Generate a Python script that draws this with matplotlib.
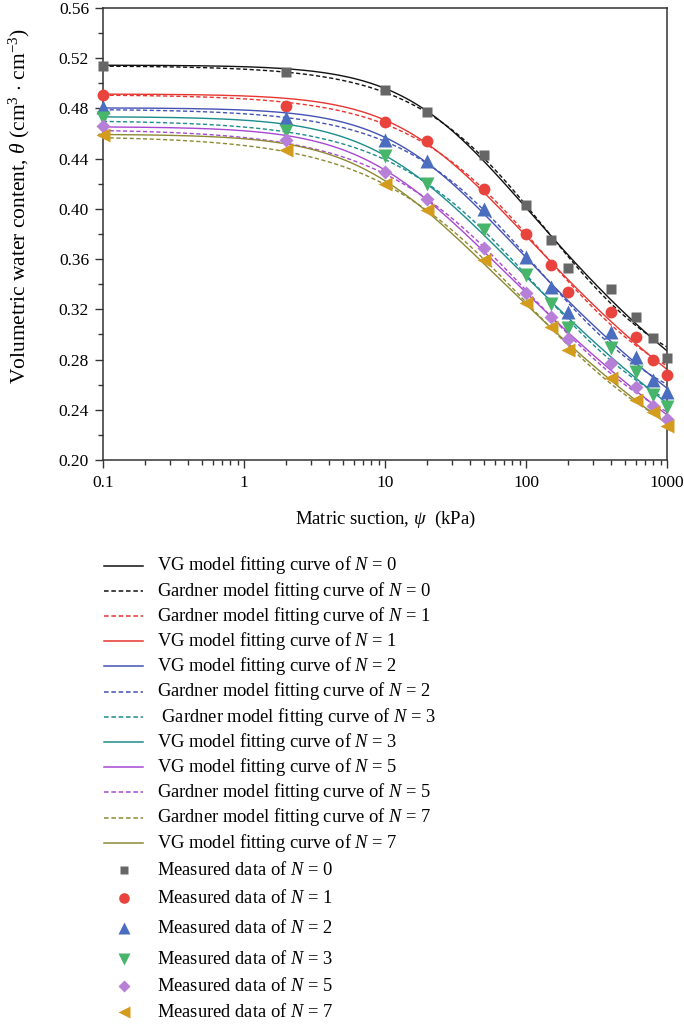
import numpy as np
import matplotlib
matplotlib.use("Agg")
import matplotlib.pyplot as plt
from matplotlib.lines import Line2D

plt.rcParams["font.family"] = ["Liberation Serif", "DejaVu Serif"]
plt.rcParams["mathtext.fontset"] = "custom"
plt.rcParams["mathtext.rm"] = "Liberation Serif"
plt.rcParams["mathtext.it"] = "Liberation Serif:italic"

# measured soil-water characteristic data (matric suction in kPa)
suction = [0.1, 2, 10, 20, 50, 100, 150, 200, 400, 600, 800, 1000]
levels = [0, 1, 2, 3, 5, 7]
theta_n0 = [0.514, 0.509, 0.495, 0.477, 0.443, 0.403, 0.375, 0.353, 0.336, 0.314, 0.297, 0.281]
theta_n1 = [0.491, 0.482, 0.469, 0.454, 0.416, 0.380, 0.355, 0.334, 0.318, 0.298, 0.280, 0.268]
theta_n2 = [0.481, 0.472, 0.455, 0.438, 0.400, 0.362, 0.338, 0.318, 0.302, 0.282, 0.264, 0.254]
theta_n3 = [0.472, 0.462, 0.442, 0.420, 0.383, 0.347, 0.324, 0.305, 0.289, 0.270, 0.252, 0.242]
theta_n5 = [0.466, 0.455, 0.429, 0.408, 0.369, 0.333, 0.314, 0.296, 0.277, 0.258, 0.243, 0.233]
theta_n7 = [0.459, 0.447, 0.420, 0.399, 0.359, 0.325, 0.306, 0.288, 0.265, 0.248, 0.238, 0.227]
measured = [theta_n0, theta_n1, theta_n2, theta_n3, theta_n5, theta_n7]

# van Genuchten fitting parameters for each N
vg_theta_s = [0.5145, 0.4915, 0.4805, 0.4735, 0.4655, 0.4595]
vg_theta_r = [0.1073, 0.0809, 0.0720, 0.0000, 0.0000, 0.0000]
vg_alpha = [0.03599, 0.04284, 0.04873, 0.06957, 0.08051, 0.08870]
vg_n = [1.2278, 1.2028, 1.2031, 1.1548, 1.1546, 1.1553]

# Gardner fitting parameters for each N
gd_theta_s = [0.5140, 0.4910, 0.4795, 0.4705, 0.4635, 0.4580]
gd_theta_r = [0.2543, 0.2389, 0.2261, 0.2104, 0.1987, 0.1916]
gd_a = [0.01060, 0.01352, 0.01501, 0.02077, 0.02583, 0.02899]
gd_b = [0.9241, 0.8818, 0.8769, 0.8173, 0.7806, 0.7660]


def vg(psi, ts, tr, a, n):
    return tr + (ts - tr) / (1 + (a * psi) ** n) ** (1 - 1 / n)


def gardner(psi, ts, tr, a, b):
    return tr + (ts - tr) / (1 + a * psi ** b)


line_colors = ["#111111", "#e8352f", "#4352b5", "#1c8c8c", "#a748d2", "#8c8a32"]
mark_colors = ["#666666", "#e8433d", "#4a6dbf", "#47b56a", "#b77fd7", "#d39c1c"]
markers = ["s", "o", "^", "v", "D", "<"]
msizes = [7, 8.5, 9.5, 9.5, 7, 9.5]

fig = plt.figure(figsize=(6.84, 10.27), dpi=100)
W, H = 684, 1027
ax = fig.add_axes([103 / W, 1 - 460 / H, 564 / W, 452 / H])

xs = np.logspace(-1, 3, 400)
for i in range(6):
    ax.plot(xs, vg(xs, vg_theta_s[i], vg_theta_r[i], vg_alpha[i], vg_n[i]),
            color=line_colors[i], lw=1.0)
    ax.plot(xs, gardner(xs, gd_theta_s[i], gd_theta_r[i], gd_a[i], gd_b[i]),
            color=line_colors[i], lw=1.0, dashes=(3, 1.8))
for i in range(6):
    ax.plot(suction, measured[i], ls="none", marker=markers[i], ms=msizes[i],
            color=mark_colors[i], mec="none", clip_on=False, zorder=5)

ax.set_xscale("log")
ax.set_xlim(0.1, 1000)
ax.set_ylim(0.20, 0.56)
ax.set_yticks(np.arange(0.20, 0.561, 0.04))
ax.set_yticks(np.arange(0.22, 0.56, 0.04), minor=True)
ax.set_yticklabels([f"{v:.2f}" for v in np.arange(0.20, 0.561, 0.04)])
ax.set_xticks([0.1, 1, 10, 100, 1000])
ax.set_xticklabels(["0.1", "1", "10", "100", "1000"])
for s in ax.spines.values():
    s.set_color("#333333")
    s.set_linewidth(1.1)
ax.tick_params(which="major", direction="out", length=6, width=1.0, color="#333333",
               labelsize=12.5, pad=4, top=False, right=False)
ax.tick_params(which="minor", direction="out", length=3.5, width=1.0, color="#333333",
               top=False, right=False)
ax.tick_params(axis="x", which="major", pad=5)
ax.set_xlabel(r"Matric suction, $\psi$  (kPa)", fontsize=13.5)
ax.xaxis.set_label_coords(0.5, -0.108)
ax.set_ylabel(r"Volumetric water content, $\theta$ (cm$^3$ $\cdot$ cm$^{-3}$)", fontsize=15.5)
ax.yaxis.set_label_coords(-0.125, 0.562)

# legend drawn by hand below the axes
line_rows = [
    ("VG", 0), ("Gardner", 0), ("Gardner", 1), ("VG", 1), ("VG", 2), ("Gardner", 2),
    ("Gardner", 3), ("VG", 3), ("VG", 5), ("Gardner", 5), ("Gardner", 7), ("VG", 7),
]
for r, (model, lev) in enumerate(line_rows):
    yp = 1 - (565.5 + 25.2 * r) / H
    i = levels.index(lev)
    kw = dict(color=line_colors[i], lw=1.1)
    if model == "Gardner":
        kw["dashes"] = (3, 1.8)
    fig.add_artist(Line2D([104 / W, 143 / W], [yp, yp], transform=fig.transFigure, **kw))
    lead = " " if (model == "Gardner" and lev == 3) else ""
    fig.text(157 / W, yp, f"{lead}{model} model fitting curve of $N$ = {lev}",
             fontsize=13.3, va="center", ha="left")
mark_rows = [870, 898, 928, 959, 986, 1012]
for i, yy in enumerate(mark_rows):
    yp = 1 - yy / H
    fig.add_artist(Line2D([123.5 / W], [yp], transform=fig.transFigure, ls="none",
                          marker=markers[i], ms=msizes[i] * 0.9, color=mark_colors[i], mec="none"))
    fig.text(157 / W, yp, f"Measured data of $N$ = {levels[i]}", fontsize=13.3,
             va="center", ha="left")

fig.savefig("out.png", dpi=100)
